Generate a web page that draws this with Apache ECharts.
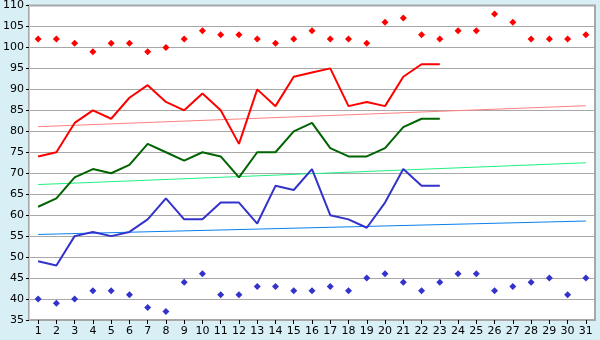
<!DOCTYPE html>
<html><head><meta charset="utf-8">
<script src="https://cdn.jsdelivr.net/npm/echarts@6/dist/echarts.min.js"></script>
<style>html,body{margin:0;padding:0;background:#d8eff6;}#c{width:600px;height:340px;}</style>
</head><body><div id="c"></div>
<script>
var days = ['1','2','3','4','5','6','7','8','9','10','11','12','13','14','15','16','17','18','19','20','21','22','23','24','25','26','27','28','29','30','31'];
var redPoints = [102,102,101,99,101,101,99,100,102,104,103,103,102,101,102,104,102,102,101,106,107,103,102,104,104,108,106,102,102,102,103];
var redLine = [74,75,82,85,83,88,91,87,85,89,85,77,90,86,93,94,95,86,87,86,93,96,96];
var greenLine = [62,64,69,71,70,72,77,75,73,75,74,69,75,75,80,82,76,74,74,76,81,83,83];
var blueLine = [49,48,55,56,55,56,59,64,59,59,63,63,58,67,66,71,60,59,57,63,71,67,67];
var bluePoints = [40,39,40,42,42,41,38,37,44,46,41,41,43,43,42,42,43,42,45,46,44,42,44,46,46,42,43,44,45,41,45];
var redTrend = [81.1, 86.1];
var greenTrend = [67.3, 72.5];
var blueTrend = [55.4, 58.6];
var yTicks = {min: 35, max: 110, step: 5};

function ends(pair){
  var a = days.map(function(){return null;});
  a[0] = pair[0]; a[days.length-1] = pair[1];
  return a;
}
var chart = echarts.init(document.getElementById('c'), null, {renderer:'canvas'});
var font = 'DejaVu Sans';
chart.setOption({
  animation:false,
  backgroundColor:'#d8eff6',
  grid:{left:27,right:5,top:5,bottom:20,show:true,backgroundColor:'#ffffff',borderColor:'#a8a8a8',borderWidth:2},
  xAxis:{type:'category',data:days,boundaryGap:true,
    axisLine:{show:true,lineStyle:{color:'#a8a8a8',width:1}},
    axisTick:{show:true,alignWithLabel:true,length:4,lineStyle:{color:'#000'}},
    axisLabel:{color:'#000',fontFamily:font,fontSize:11,margin:6,interval:0},
    splitLine:{show:false}},
  yAxis:{type:'value',min:yTicks.min,max:yTicks.max,interval:yTicks.step,
    axisLine:{show:true,lineStyle:{color:'#b8d0dc',width:1}},
    axisTick:{show:true,length:3,lineStyle:{color:'#000'}},
    axisLabel:{color:'#000',fontFamily:font,fontSize:11,margin:5},
    splitLine:{show:true,lineStyle:{color:'#a8a8a8',width:1}}},
  series:[
    {type:'line',data:ends(redTrend),connectNulls:true,symbol:'none',lineStyle:{color:'#ff8080',width:1},z:2},
    {type:'line',data:ends(greenTrend),connectNulls:true,symbol:'none',lineStyle:{color:'#20f080',width:1},z:2},
    {type:'line',data:ends(blueTrend),connectNulls:true,symbol:'none',lineStyle:{color:'#0a80f0',width:1},z:2},
    {type:'line',data:redLine,symbol:'none',lineStyle:{color:'#ff0000',width:2},z:3},
    {type:'line',data:greenLine,symbol:'none',lineStyle:{color:'#006400',width:2},z:3},
    {type:'line',data:blueLine,symbol:'none',lineStyle:{color:'#3333cc',width:2},z:3},
    {type:'scatter',data:redPoints,symbol:'diamond',symbolSize:7,itemStyle:{color:'#ff0000',opacity:1},z:4},
    {type:'scatter',data:bluePoints,symbol:'diamond',symbolSize:7,itemStyle:{color:'#3333cc',opacity:1},z:4}
  ]
});
</script></body></html>
